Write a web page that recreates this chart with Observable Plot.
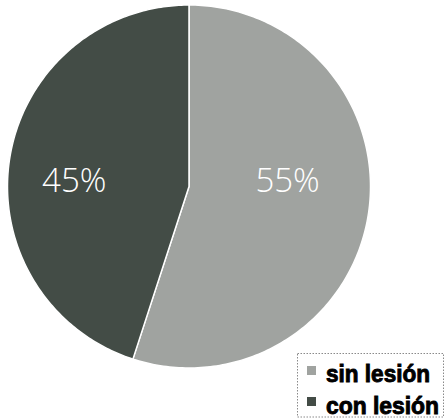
<!DOCTYPE html>
<html>
<head>
<meta charset="utf-8">
<script src="https://cdn.jsdelivr.net/npm/d3@7"></script>
<script src="https://cdn.jsdelivr.net/npm/@observablehq/plot@0.6"></script>
<style>
  html, body { margin: 0; padding: 0; background: #fff; }
  #wrap { position: relative; width: 445px; height: 420px; overflow: hidden; }
  #legend { position: absolute; left: 0; top: 0; }
</style>
</head>
<body>
<div id="wrap"><div id="chart"></div><svg id="legend" width="445" height="420"></svg></div>
<script>
// Data
const categories = ["sin lesión", "con lesión"];
const values = [55, 45];
const labels = ["55%", "45%"];
const colors = ["#a0a3a0", "#434c46"];

// Build slice polygons from d3.pie angles (clockwise from 12 o'clock)
const pie = d3.pie().sort(null).value(d => d.value);
const arcs = pie(categories.map((c, i) => ({name: c, value: values[i], label: labels[i]})));
const poly = [];
arcs.forEach(a => {
  const name = a.data.name;
  poly.push({name, x: 0, y: 0});
  const n = 200;
  for (let k = 0; k <= n; k++) {
    const t = a.startAngle + (a.endAngle - a.startAngle) * k / n;
    poly.push({name, x: Math.sin(t), y: Math.cos(t)});
  }
  poly.push({name, x: 0, y: 0});
});
const labelR = [0.55, 0.64];
const labelPts = arcs.map((a, i) => {
  const mid = (a.startAngle + a.endAngle) / 2;
  return {label: a.data.label, x: labelR[i] * Math.sin(mid), y: 0.03};
});

const chart = Plot.plot({
  width: 445,
  height: 420,
  marginLeft: 7,
  marginRight: 75,
  marginTop: 4.5,
  marginBottom: 52.5,
  x: {domain: [-1, 1], axis: null},
  y: {domain: [-1, 1], axis: null},
  color: {domain: categories, range: colors},
  marks: [
    Plot.line(poly, {x: "x", y: "y", z: "name", fill: "name", stroke: "white", strokeWidth: 1.5, curve: "linear"}),
    Plot.text(labelPts, {x: "x", y: "y", text: "label", fill: "white", fontSize: 33,
      fontFamily: "'Open Sans', 'Noto Sans', sans-serif", fontWeight: 300})
  ]
});
document.getElementById("chart").appendChild(chart);

// Legend
const color = chart.scale("color");
const lg = d3.select("#legend");
lg.append("rect").attr("x", 297.5).attr("y", 353.5).attr("width", 146).attr("height", 63.5)
  .attr("fill", "white").attr("stroke", "#8a8a8a").attr("stroke-dasharray", "1.5,1.5");
const textLen = [104, 113];
categories.forEach((c, i) => {
  lg.append("rect").attr("x", 307).attr("y", 366 + i * 31).attr("width", 9).attr("height", 9)
    .attr("fill", color.apply(c));
  lg.append("text").attr("x", 326).attr("y", 382 + i * 31.5).text(c)
    .attr("textLength", textLen[i]).attr("lengthAdjust", "spacingAndGlyphs")
    .attr("font-family", "'Liberation Sans', Arial, sans-serif").attr("font-weight", "bold")
    .attr("font-size", 23).attr("fill", "#000").attr("stroke", "#000").attr("stroke-width", 0.9);
});
</script>
</body>
</html>
